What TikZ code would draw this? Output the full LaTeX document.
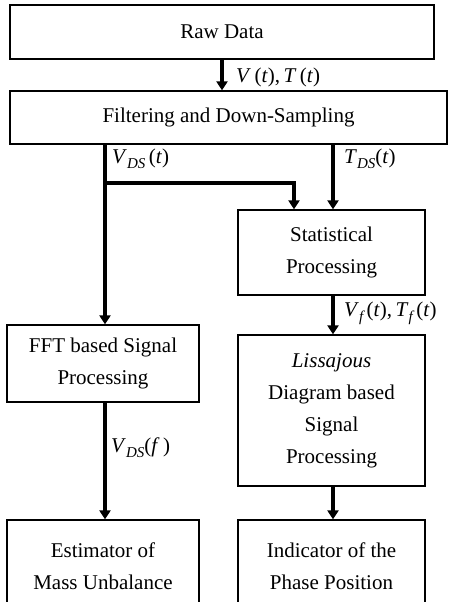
\documentclass[tikz,border=0pt]{standalone}
\usepackage{fontspec}
\setmainfont{Liberation Serif}
\usetikzlibrary{arrows.meta}
\newcommand{\subDS}{\raisebox{-5pt}{\fontsize{15}{15}\selectfont\itshape DS}}
\newcommand{\subf}{\raisebox{-5pt}{\fontsize{15}{15}\selectfont\itshape f}}
\begin{document}
\begin{tikzpicture}[x=1pt,y=-1pt,
  box/.style={draw, line width=1.3pt, align=center, inner sep=0pt,
    font=\fontsize{21}{32}\selectfont},
  flow/.style={line width=3.5pt, line join=miter,
    -{Triangle[width=11pt,length=9pt]}},
  lbl/.style={anchor=west, inner sep=0pt, font=\fontsize{21}{24}\selectfont}]
\clip (0,0) rectangle (456,602);
\fill[white] (0,0) rectangle (456,602);
% boxes
\node[box, minimum width=424pt, minimum height=54pt] (raw) at (222,32) {Raw Data};
\node[box, minimum width=437pt, minimum height=53pt] (filt) at (228.5,117.5) {Filtering and Down-Sampling};
\node[box, minimum width=187pt, minimum height=85pt] (stat) at (331.5,252.5) {Statistical\\Processing};
\node[box, minimum width=187pt, minimum height=151pt] (liss) at (331.5,410.5) {\textit{Lissajous}\\Diagram based\\Signal\\Processing};
\node[box, minimum width=187pt, minimum height=92pt] (ind) at (331.5,566) {Indicator of the\\Phase Position};
\node[box, minimum width=192pt, minimum height=77pt] (fft) at (103,363.5) {FFT based Signal\\Processing};
\node[box, minimum width=192pt, minimum height=92pt] (est) at (103,566) {Estimator of\\Mass Unbalance};
% routing coordinates
\coordinate (vl) at (105,144);
\coordinate (br) at (294,183);
\coordinate (tr) at (333,144);
% connectors
\draw[flow] (raw.south) -- (raw.south |- filt.north);
\draw[flow] (vl |- filt.south) -- (vl |- fft.north);
\draw[flow] (vl |- br) -- (br) -- (br |- stat.north);
\draw[flow] (tr |- filt.south) -- (tr |- stat.north);
\draw[flow] (tr |- stat.south) -- (tr |- liss.north);
\draw[flow] (tr |- liss.south) -- (tr |- ind.north);
\draw[flow] (vl |- fft.south) -- (vl |- est.north);
% labels
\node[lbl] (l1) at (236,77) {\textit{V}\,(\textit{t}),\,\textit{T}\,(\textit{t})};
\node[lbl] (l2) at (112,159) {\textit{V}\subDS\,(\textit{t})};
\node[lbl] (l3) at (344,159) {\textit{T}\subDS(\textit{t})};
\node[lbl] (l4) at (344,313) {\textit{V}\subf\,(\textit{t}),\,\textit{T}\subf\,(\textit{t})};
\node[lbl] (l5) at (111,448) {\textit{V}\subDS(\textit{f}\,)};
\end{tikzpicture}
\end{document}
